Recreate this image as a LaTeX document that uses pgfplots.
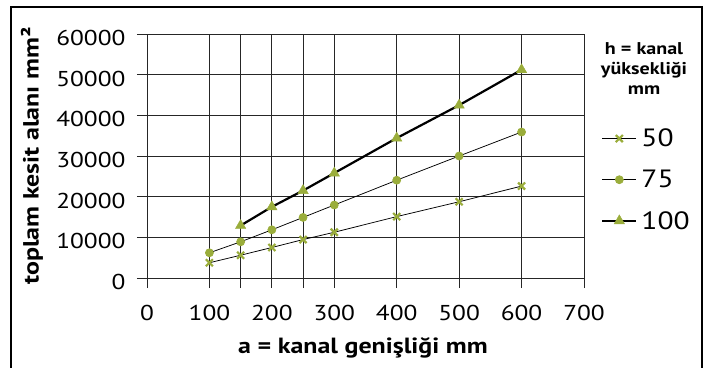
\documentclass[border=0pt]{standalone}
\usepackage{fontspec}
\setmainfont{PT Sans}[FakeStretch=1.18]
\usepackage{pgfplots}
\pgfplotsset{compat=1.18}
\definecolor{markc}{HTML}{9AAD3B}
\begin{document}
\begin{tikzpicture}
\path[use as bounding box] (-147bp,-90bp) rectangle (565bp,278bp);
\draw[line width=1.3bp] (-136bp,-92bp) -- (-136bp,271bp) -- (555bp,271bp) -- (555bp,-92bp);
\begin{axis}[
  at={(0,0)}, anchor=south west,
  scale only axis, width=437bp, height=244bp,
  xmin=0, xmax=700, ymin=0, ymax=60000,
  xtick={0,100,...,700}, extra x ticks={150,250},
  extra x tick labels={},
  ytick={0,10000,...,60000},
  grid=major,
  grid style={black!85, line width=0.8bp},
  extra x tick style={grid=major},
  axis line style={black!85, line width=0.8bp},
  major tick style={black!85, line width=0.8bp},
  tick align=outside, major tick length=10bp,
  tick pos=left,
  /pgf/number format/.cd, 1000 sep={}, assume math mode=true, /pgfplots/.cd,
  tick label style={font=\fontsize{21.5bp}{25bp}\selectfont},
  xticklabel style={yshift=-14bp},
  yticklabel style={xshift=-8bp, yshift=-4bp},
  scaled y ticks=false,
  xlabel={a = kanal genişliği mm},
  ylabel={toplam kesit alanı mm²},
  label style={font=\bfseries\fontsize{22bp}{26bp}\selectfont},
  xlabel style={at={(axis description cs:0.494,-0.287)}, anchor=center},
  ylabel style={at={(axis description cs:-0.263,0.5)}, anchor=center},
  legend image code/.code={\draw[mark repeat=2,mark phase=2,#1] plot coordinates {(0bp,0bp) (17bp,0bp) (34bp,0bp)};},
  legend style={draw=none, fill=none, inner sep=0pt, at={(axis description cs:1.039,0.62)}, anchor=north west,
    font=\fontsize{25bp}{30bp}\selectfont, row sep=18bp,
    nodes={inner xsep=4bp, inner ysep=2bp}},
  legend cell align=left,
]
\addplot[black, line width=0.75bp, mark=x, mark size=5bp, mark options={draw=markc, line width=2.2bp}]
  coordinates {(100,3750) (150,5600) (200,7500) (250,9450) (300,11250) (400,15100) (500,18750) (600,22600)};
\addlegendentry{50}
\addplot[black, line width=0.75bp, mark=*, mark size=4bp, mark options={draw=markc, fill=markc}]
  coordinates {(100,6200) (150,8900) (200,11850) (250,14900) (300,17950) (400,24050) (500,30000) (600,35900)};
\addlegendentry{75}
\addplot[black, line width=2.2bp, mark=triangle*, mark size=6bp, mark options={draw=markc, fill=markc, line width=0.4bp}]
  coordinates {(150,12900) (200,17500) (250,21500) (300,25800) (400,34400) (500,42500) (600,51200)};
\addlegendentry{100}
\end{axis}
\node[font=\bfseries\fontsize{17bp}{20bp}\selectfont, align=center] at (497bp,209bp) {h = kanal\\yüksekliği\\mm};
\end{tikzpicture}
\end{document}
